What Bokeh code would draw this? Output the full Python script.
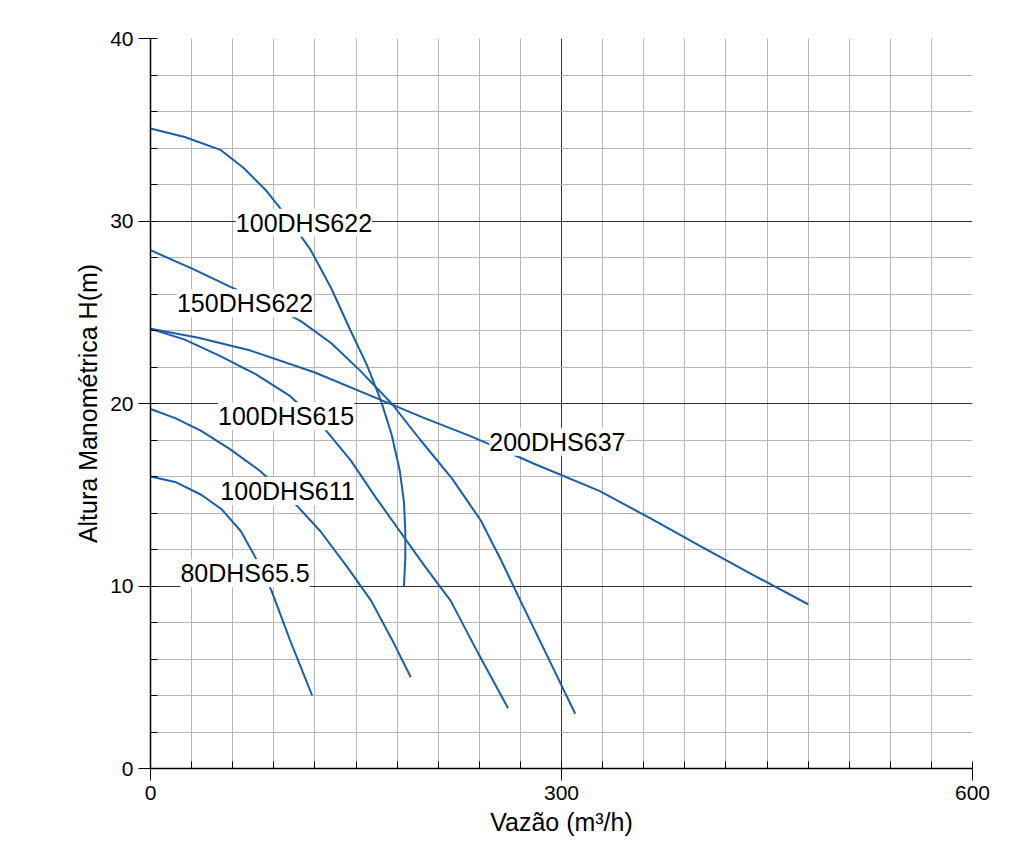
from bokeh.plotting import figure
from bokeh.models import Range1d, FixedTicker, Label
from bokeh.embed import file_html
from bokeh.resources import INLINE

c1_x=[0,25,51,68,84,100,117,132,146,158,168,176,182,185,186,186,185]; c1_y=[35.07,34.6,33.9,32.9,31.7,30.2,28.4,26.3,24,22.1,20.2,18.3,16.3,14.6,13,11.5,10]
c2_x=[0,30,58,85,110,132,153,176,197,220,241,256,270,290,310]; c2_y=[28.4,27.4,26.4,25.5,24.5,23.3,21.8,20,18,15.9,13.6,11.4,9.2,6.1,3]
c3_x=[0,35,73,120,168,200,234,280,328,365,401,440,480]; c3_y=[24.1,23.6,22.9,21.7,20.2,19.2,18.2,16.7,15.2,13.7,12.2,10.6,9]
c4_x=[0,25,51,77,102,125,146,164,182,200,219,240,261]; c4_y=[24.1,23.5,22.6,21.6,20.4,18.8,16.9,14.9,13,11.1,9.2,6.2,3.3]
c5_x=[0,18,37,58,80,102,124,143,161,176,190]; c5_y=[19.7,19.2,18.5,17.5,16.3,14.8,13,11.1,9.2,7.1,5]
c6_x=[0,18,37,52,66,77,88,95,102,110,118]; c6_y=[16,15.7,15,14.2,13,11.5,9.8,8.4,7,5.5,4]
labels=["100DHS622","150DHS622","200DHS637","100DHS615","100DHS611","80DHS65.5"]
lab_x=[112,69,297,99,100,69]; lab_y=[29.9,25.5,17.9,19.3,15.2,10.7]

p=figure(width=1004,height=850,output_backend="svg",toolbar_location=None,
         x_range=Range1d(0,600),y_range=Range1d(0,40),
         min_border_left=150,min_border_right=32,min_border_top=38,min_border_bottom=82)
p.outline_line_color=None
font="Liberation Sans"
for ax in (p.xaxis[0],p.yaxis[0]):
    ax.major_tick_out=12; ax.major_tick_in=0
    ax.minor_tick_out=0; ax.minor_tick_in=7
    ax.axis_line_color="black"; ax.axis_line_width=1.5
    ax.major_label_text_font=font; ax.major_label_text_font_size="21px"
    ax.major_label_text_color="black"; ax.axis_label_text_color="black"
    ax.axis_label_text_font=font; ax.axis_label_text_font_size="25px"
    ax.axis_label_text_font_style="normal"
p.xaxis.ticker=FixedTicker(ticks=[0,300,600],minor_ticks=list(range(0,601,30)))
p.yaxis.ticker=FixedTicker(ticks=[0,10,20,30,40],minor_ticks=list(range(0,41,2)))
p.xaxis.axis_label="Vazão (m³/h)"; p.yaxis.axis_label="Altura Manométrica H(m)"
for g in (p.xgrid[0],p.ygrid[0]):
    g.grid_line_color="#333333"; g.grid_line_width=1
    g.minor_grid_line_color="#b5b5b5"; g.minor_grid_line_width=1
col="#1b5ea8"
for xs,ys in [(c1_x,c1_y),(c2_x,c2_y),(c3_x,c3_y),(c4_x,c4_y),(c5_x,c5_y),(c6_x,c6_y)]:
    p.line(xs,ys,line_color=col,line_width=2)
for t,x,y in zip(labels,lab_x,lab_y):
    p.add_layout(Label(x=x,y=y,text=t,text_align="center",text_baseline="middle",
        text_font=font,text_font_size="25px",text_color="black",background_fill_color="white"))
open("out.html","w").write(file_html(p,INLINE))
